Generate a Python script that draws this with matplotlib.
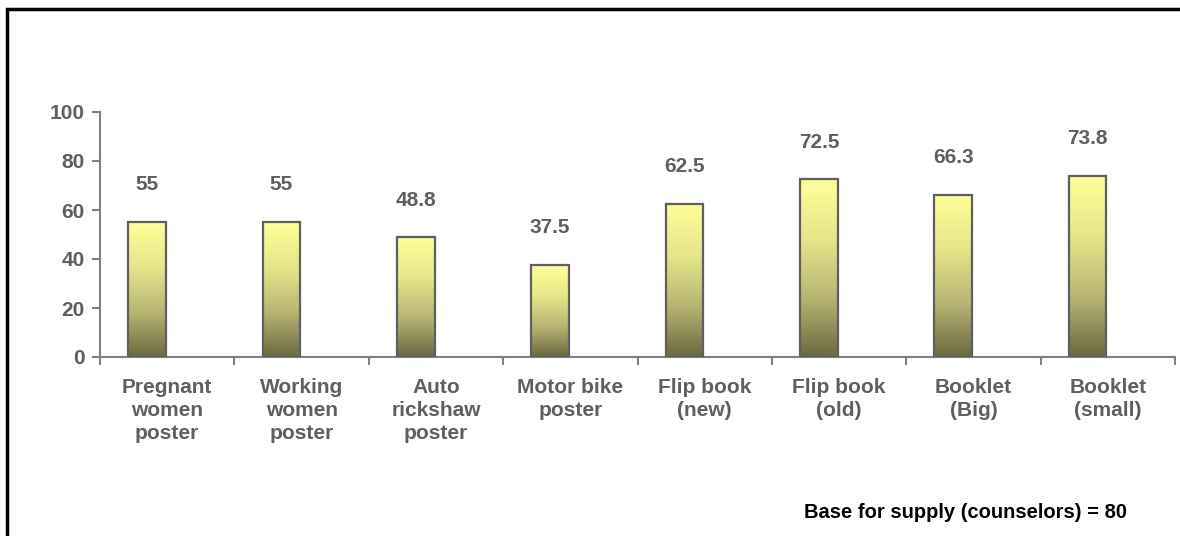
import numpy as np
import matplotlib.pyplot as plt
from matplotlib.colors import LinearSegmentedColormap
from matplotlib.patches import Rectangle

plt.rcParams['font.family'] = ['Liberation Sans', 'DejaVu Sans']
plt.rcParams['font.weight'] = 'bold'

materials = ['Pregnant\nwomen\nposter', 'Working\nwomen\nposter', 'Auto\nrickshaw\nposter',
             'Motor bike\nposter', 'Flip book\n(new)', 'Flip book\n(old)', 'Booklet\n(Big)',
             'Booklet\n(small)']
supplied = [55, 55, 48.8, 37.5, 62.5, 72.5, 66.3, 73.8]
yticks = [0, 20, 40, 60, 80, 100]
note = 'Base for supply (counselors) = 80'

grey = '#5f5f5f'
axis_grey = '#808080'
grad = LinearSegmentedColormap.from_list('olive', ['#6b6840', '#b8b574', '#e6e68a', '#ffff99'])

fig = plt.figure(figsize=(11.8, 5.36), dpi=100)
ax = fig.add_axes([100/1180, 1 - 357/536, 1075/1180, 245/536])

x = np.arange(len(materials))
shift = -0.15
width = 0.28
bars = ax.bar(x + shift, supplied, width, color='none', edgecolor=grey, linewidth=1.6, zorder=3)

# vertical gradient inside each bar
ramp = np.linspace(0, 1, 256).reshape(-1, 1)
for b in bars:
    x0, y0 = b.get_x(), b.get_y()
    im = ax.imshow(ramp, cmap=grad, origin='lower', aspect='auto',
                   extent=[x0, x0 + b.get_width(), y0, y0 + b.get_height()], zorder=2)
    im.set_clip_path(b)

for xi, v in zip(x, supplied):
    ax.annotate(f'{v:g}', (xi + shift, v), xytext=(0, 20), textcoords='offset points',
                ha='center', va='bottom', fontsize=15, fontweight='bold', color=grey)

ax.set_xlim(-0.5, len(materials) - 0.5)
ax.set_ylim(0, 100)
ax.set_yticks(yticks)
ax.set_xticks(x)
ax.set_xticklabels(materials, fontsize=15, fontweight='bold', color=grey, linespacing=1.27)
ax.set_xticks(np.arange(-0.5, len(materials)), minor=True)
ax.tick_params(axis='x', which='major', length=0, pad=15)
ax.tick_params(axis='x', which='minor', length=6, width=1.5, color=axis_grey)
ax.tick_params(axis='y', length=6, width=1.5, color=axis_grey, labelsize=15,
               labelcolor=grey, pad=5)
for lab in ax.get_yticklabels():
    lab.set_fontweight('bold')

for s in ['top', 'right']:
    ax.spines[s].set_visible(False)
for s in ['left', 'bottom']:
    ax.spines[s].set_color(axis_grey)
    ax.spines[s].set_linewidth(1.5)

fig.text(1127/1180, 1 - 513/536, note, ha='right', va='center', fontsize=14.5,
         fontweight='bold', color='black')

# outer frame
fig.patches.append(Rectangle((7/1180, -0.1), 1.2, 1 - 9/536 + 0.1, transform=fig.transFigure,
                             fill=False, edgecolor='black', linewidth=2.5))

fig.savefig('out.png', dpi=100)
